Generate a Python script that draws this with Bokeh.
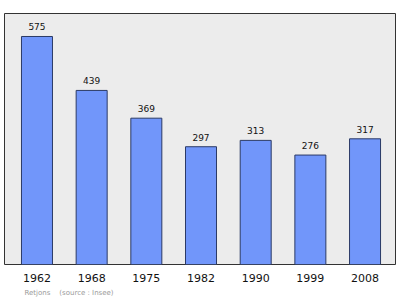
from bokeh.plotting import figure
from bokeh.models import FixedTicker, Range1d, Title, ColumnDataSource
from bokeh.core.properties import value
from bokeh.embed import file_html
from bokeh.resources import INLINE

# Population by census year
years = ["1962", "1968", "1975", "1982", "1990", "1999", "2008"]
population = [575, 439, 369, 297, 313, 276, 317]

xs = list(range(len(years)))
src = ColumnDataSource(dict(x=xs, top=population, label=[str(v) for v in population]))

p = figure(width=400, height=299, output_backend="svg", toolbar_location=None,
           x_range=Range1d(-0.594, 6.557), y_range=Range1d(0, 633),
           min_border_left=4, min_border_right=5, min_border_top=13, min_border_bottom=0)

p.background_fill_color = "#ececec"
p.border_fill_color = "white"
p.outline_line_color = "#333333"
p.outline_line_width = 1
p.grid.visible = False
p.yaxis.visible = False

p.vbar(x="x", top="top", bottom=0, width=0.567, source=src,
       fill_color="#7196fa", line_color="#2b3a66", line_width=1)

p.text(x="x", y="top", text="label", source=src, y_offset=-6,
       text_align="center", text_baseline="bottom",
       text_font=value("DejaVu Sans"), text_font_size="9px", text_color="#111111")

ax = p.xaxis[0]
ax.ticker = FixedTicker(ticks=xs)
ax.major_label_overrides = {i: y for i, y in enumerate(years)}
ax.axis_line_color = None
ax.major_tick_line_color = None
ax.minor_tick_line_color = None
ax.major_label_standoff = 3
ax.major_label_text_font = "DejaVu Sans"
ax.major_label_text_font_size = "11px"
ax.major_label_text_color = "#111111"

# source note below the year labels
note = Title(text="Retjons\u00a0\u00a0\u00a0\u00a0(source\u00a0:\u00a0Insee)", align="left", offset=20,
             text_font="DejaVu Sans", text_font_size="7px", text_font_style="normal",
             text_color="#9a9a9a", standoff=5)
p.add_layout(note, "below")

open("out.html", "w").write(file_html(p, INLINE))
